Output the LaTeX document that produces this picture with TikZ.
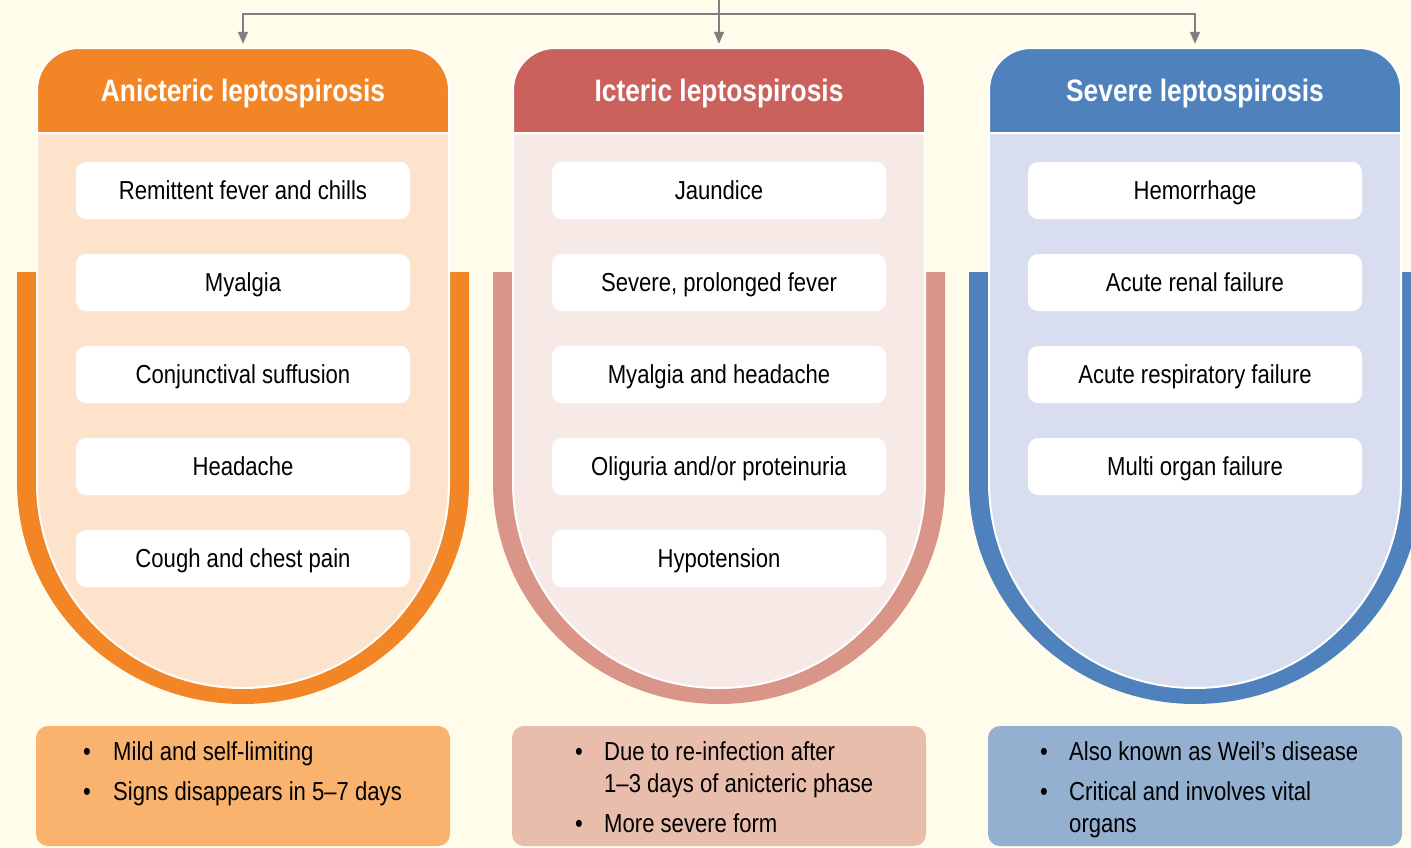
\documentclass[tikz,border=0pt]{standalone}
\usepackage{fontspec}
\setmainfont{Liberation Sans}[FakeStretch=0.85]
\usetikzlibrary{arrows.meta}
\definecolor{bgc}{HTML}{FFFCEB}
\definecolor{hdA}{HTML}{F28526}
\definecolor{bnA}{HTML}{F28526}
\definecolor{bdA}{HTML}{FDE3CC}
\definecolor{ntA}{HTML}{F9B36F}
\definecolor{hdB}{HTML}{CB615D}
\definecolor{bnB}{HTML}{D99688}
\definecolor{bdB}{HTML}{F7E9E5}
\definecolor{ntB}{HTML}{E8BDAB}
\definecolor{hdC}{HTML}{4F81BD}
\definecolor{bnC}{HTML}{4F81BD}
\definecolor{bdC}{HTML}{D8DEEF}
\definecolor{ntC}{HTML}{94B0D0}
\definecolor{arrc}{HTML}{808080}
\begin{document}
\begin{tikzpicture}[x=1pt,y=-1pt,
  hdtext/.style={minimum width=412pt, minimum height=84pt, inner sep=0pt, text=white,
    font=\fontsize{31}{34}\selectfont\bfseries, text height=22pt, text depth=0pt},
  itembox/.style={fill=white, rounded corners=10pt, minimum width=334pt, minimum height=57pt,
    inner sep=0pt, font=\fontsize{26}{30}\selectfont, text height=18.6pt, text depth=0pt},
  notebox/.style={rounded corners=12pt, minimum width=414pt, minimum height=120pt, inner sep=0pt},
  notetext/.style={anchor=base west, inner sep=0pt, font=\fontsize{26}{32}\selectfont},
  conn/.style={draw=arrc, line width=1.5pt, -{Triangle[width=10pt,length=12pt]}, shorten >=4pt},
  edge/.style={draw=white, line width=2pt}]
\fill[bgc] (0,0) rectangle (1411,847);
\useasboundingbox (0,0) rectangle (1411,847);
\clip (0,0) rectangle (1411,847);

% columns: bands, bodies, headers
\foreach \cx/\hc/\bn/\bd in {243/hdA/bnA/bdA, 719/hdB/bnB/bdB, 1195/hdC/bnC/bdC}{
  \fill[\bn] (\cx-226,272) -- (\cx-226,482) arc[start angle=180, end angle=0, x radius=226, y radius=222] -- (\cx+226,272) -- cycle;
  \path[fill=\bd, edge] (\cx-206,133) -- (\cx-206,482) arc[start angle=180, end angle=0, radius=206] -- (\cx+206,133) -- cycle;
  \path[fill=\hc, edge] (\cx-206,133) -- (\cx-206,90) arc[start angle=180, end angle=270, radius=42] -- (\cx+164,48) arc[start angle=270, end angle=360, radius=42] -- (\cx+206,133) -- cycle;
}

\node[hdtext] (h1) at (243,90) {Anicteric leptospirosis};
\node[hdtext] (h2) at (719,90) {Icteric leptospirosis};
\node[hdtext] (h3) at (1195,90) {Severe leptospirosis};

% column 1 items
\node[itembox] (a1) at (243,190.5) {Remittent fever and chills};
\node[itembox] (a2) at (243,282.5) {Myalgia};
\node[itembox] (a3) at (243,374.5) {Conjunctival suffusion};
\node[itembox] (a4) at (243,466.5) {Headache};
\node[itembox] (a5) at (243,558.5) {Cough and chest pain};
% column 2 items
\node[itembox] (b1) at (719,190.5) {Jaundice};
\node[itembox] (b2) at (719,282.5) {Severe, prolonged fever};
\node[itembox] (b3) at (719,374.5) {Myalgia and headache};
\node[itembox] (b4) at (719,466.5) {Oliguria and/or proteinuria};
\node[itembox] (b5) at (719,558.5) {Hypotension};
% column 3 items
\node[itembox] (c1) at (1195,190.5) {Hemorrhage};
\node[itembox] (c2) at (1195,282.5) {Acute renal failure};
\node[itembox] (c3) at (1195,374.5) {Acute respiratory failure};
\node[itembox] (c4) at (1195,466.5) {Multi organ failure};

% notes
\node[notebox, fill=ntA] (n1) at (243,786) {};
\node[notebox, fill=ntB] (n2) at (719,786) {};
\node[notebox, fill=ntC] (n3) at (1195,786) {};

\node[notetext] (l1) at (83,760) {\begin{tabular}[t]{@{}p{30pt}@{}l@{}}
\textbullet & Mild and self-limiting\\[8pt]
\textbullet & Signs disappears in 5–7 days
\end{tabular}};
\node[notetext] (l2) at (575,760) {\begin{tabular}[t]{@{}p{29pt}@{}l@{}}
\textbullet & Due to re-infection after\\
 & 1–3 days of anicteric phase\\[8pt]
\textbullet & More severe form
\end{tabular}};
\node[notetext] (l3) at (1040,760) {\begin{tabular}[t]{@{}p{29pt}@{}l@{}}
\textbullet & Also known as Weil’s disease\\[8pt]
\textbullet & Critical and involves vital\\
 & organs
\end{tabular}};

% connectors
\coordinate (src) at (719,-2);
\coordinate (split) at (719,14);
\draw[conn] (src) -- (h2.north);
\draw[conn] (split) -| (h1.north);
\draw[conn] (split) -| (h3.north);
\end{tikzpicture}
\end{document}
